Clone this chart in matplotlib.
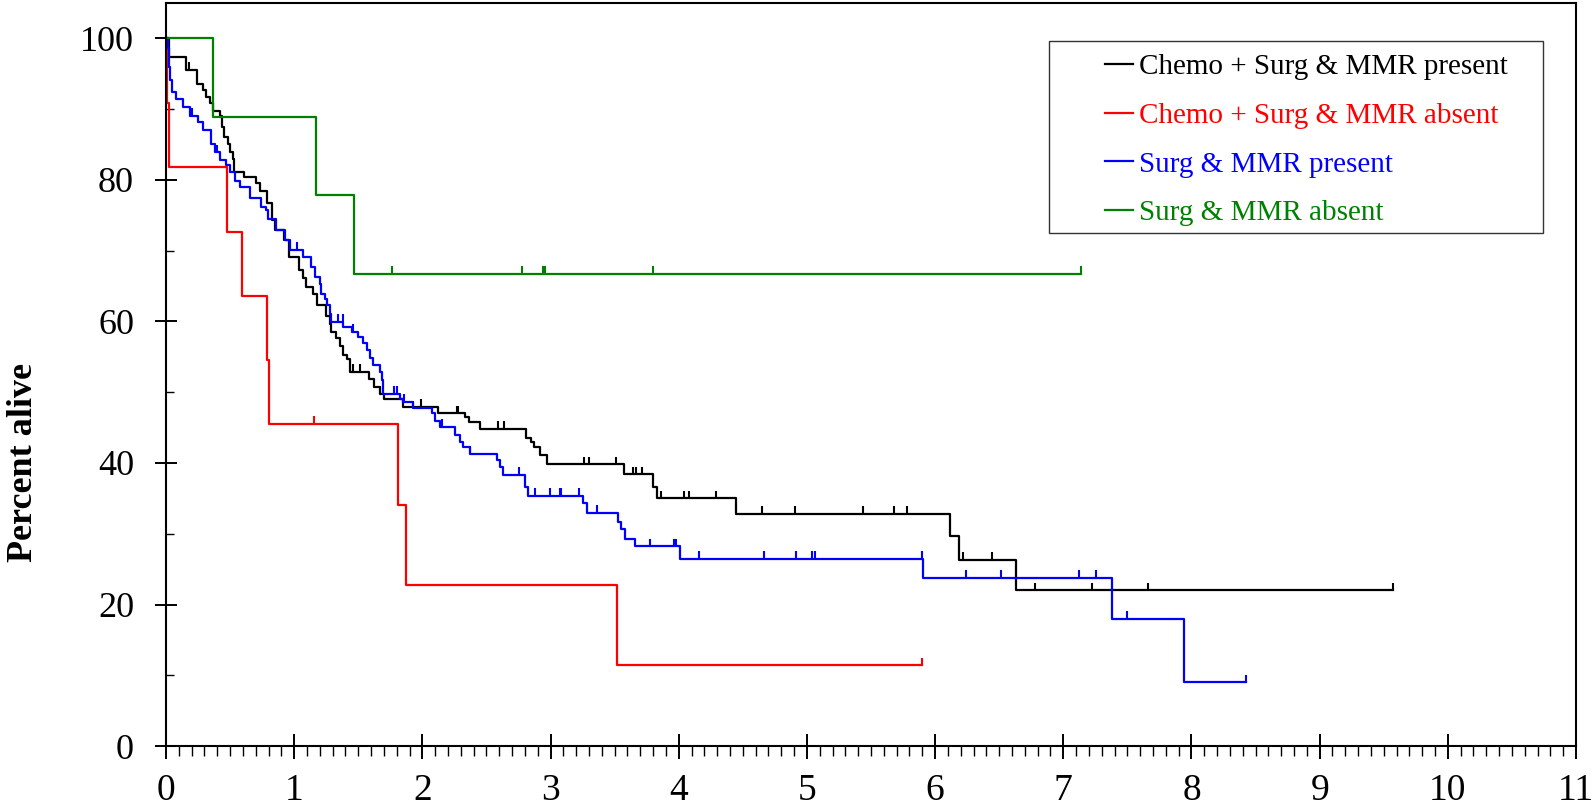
import numpy as np
import matplotlib.pyplot as plt
from matplotlib.patches import Rectangle
from matplotlib.ticker import MultipleLocator

plt.rcParams['font.family'] = ['Liberation Serif', 'DejaVu Serif']

labels = ['Chemo + Surg & MMR present', 'Chemo + Surg & MMR absent',
          'Surg & MMR present', 'Surg & MMR absent']
colors = ['#000000', '#FF0000', '#0000FF', '#008000']

# Chemo + Surg & MMR present
black_t = [0, 0.02, 0.16, 0.24, 0.29, 0.31, 0.34, 0.37, 0.42, 0.44, 0.455, 0.48, 0.50, 0.52, 0.53,
           0.61, 0.70, 0.73, 0.79, 0.83, 0.85, 0.92, 0.96, 1.04, 1.07, 1.09, 1.15, 1.175, 1.25, 1.28,
           1.29, 1.33, 1.36, 1.38, 1.41, 1.435, 1.58, 1.62, 1.67, 1.70, 1.85, 2.125, 2.33, 2.36, 2.45,
           2.81, 2.845, 2.87, 2.92, 2.97, 3.57, 3.80, 3.83, 4.45, 6.12, 6.19, 6.63]
black_s = [100, 97.3, 95.5, 93.5, 92.7, 91.7, 90.8, 89.8, 89.1, 87.5, 86.1, 85.1, 83.9, 83.0, 81.1,
           80.4, 79.5, 78.5, 76.7, 74.3, 72.9, 71.5, 69.1, 67.2, 66.1, 64.9, 63.9, 62.3, 60.8, 59.7,
           58.5, 57.6, 56.6, 55.2, 54.7, 52.9, 51.9, 50.7, 49.8, 49.0, 47.9, 47.0, 46.5, 45.8, 44.8,
           43.6, 43.0, 42.3, 41.1, 39.8, 38.4, 36.6, 35.0, 32.8, 29.7, 26.3, 22.0]
black_end = 9.57
black_cens = [0.18, 1.46, 1.51, 1.67, 1.99, 2.27, 2.28, 2.59, 2.64, 3.26, 3.30, 3.51, 3.64, 3.67,
              3.71, 3.86, 4.04, 4.08, 4.29, 4.65, 4.91, 5.44, 5.68, 5.78, 6.22, 6.44, 6.78, 7.22,
              7.66, 9.57]

# Chemo + Surg & MMR absent
red_t = [0, 0.005, 0.02, 0.473, 0.59, 0.785, 0.80, 1.812, 1.87, 3.52]
red_s = [100, 90.9, 81.8, 72.7, 63.6, 54.5, 45.5, 34.1, 22.7, 11.4]
red_end = 5.90
red_cens = [1.155, 5.90]

# Surg & MMR present
blue_t = [0, 0.015, 0.025, 0.035, 0.047, 0.08, 0.133, 0.19, 0.25, 0.29, 0.354, 0.38, 0.42, 0.47,
          0.497, 0.536, 0.575, 0.653, 0.744, 0.783, 0.796, 0.861, 0.926, 0.965, 1.069, 1.134, 1.16,
          1.20, 1.21, 1.24, 1.253, 1.279, 1.29, 1.383, 1.448, 1.50, 1.539, 1.565, 1.591, 1.617,
          1.669, 1.682, 1.695, 1.825, 1.851, 1.929, 2.072, 2.098, 2.137, 2.254, 2.293, 2.319, 2.371,
          2.579, 2.605, 2.631, 2.80, 2.826, 3.255, 3.287, 3.528, 3.546, 3.58, 3.658, 4.009, 5.908,
          7.382, 7.941]
blue_s = [100, 98.6, 96.0, 94.1, 92.4, 91.5, 90.3, 89.1, 88.2, 87.0, 85.1, 83.9, 82.8, 82.1,
          81.1, 79.9, 79.0, 77.4, 76.2, 75.7, 74.5, 72.9, 71.5, 70.1, 69.1, 67.7, 66.3,
          65.3, 63.9, 63.2, 62.3, 61.1, 59.9, 59.2, 58.5, 57.8, 56.9, 55.9, 54.8, 53.8,
          52.9, 51.7, 49.8, 49.1, 48.6, 47.7, 47.0, 46.0, 45.1, 43.9, 43.0, 42.3, 41.3,
          40.4, 39.4, 38.3, 36.6, 35.3, 34.3, 33.0, 31.7, 30.6, 29.3, 28.2, 26.4, 23.8,
          18.0, 9.0]
blue_end = 8.425
blue_cens = [0.20, 0.395, 1.02, 1.344, 1.38, 1.46, 1.78, 1.80, 1.86, 1.929, 2.15, 2.371, 2.75,
             2.878, 2.996, 3.07, 3.08, 3.224, 3.359, 3.775, 3.96, 3.98, 4.16, 4.667, 4.914, 5.04,
             5.06, 5.90, 6.241, 6.511, 7.125, 7.252, 7.499, 8.425]

# Surg & MMR absent
green_t = [0, 0.364, 1.168, 1.466]
green_s = [100, 88.9, 77.8, 66.7]
green_end = 7.14
green_cens = [1.763, 2.777, 2.945, 2.96, 3.80, 7.14]


def draw_km(ax, t, s, end, cens, color, label):
    t = np.asarray(t)
    s = np.asarray(s)
    x = np.append(t, end)
    y = np.append(s, s[-1])
    ax.step(x, y, where='post', color=color, lw=1.6, label=label)
    c = np.asarray(cens)
    cy = s[np.searchsorted(t, c, side='right') - 1]
    ax.vlines(c, cy, cy + 1.1, color=color, lw=1.5)


fig = plt.figure(figsize=(15.96, 8.11), dpi=100)
ax = fig.add_axes([0.104, 0.0801, 0.8835, 0.9162])

series = [(black_t, black_s, black_end, black_cens),
          (red_t, red_s, red_end, red_cens),
          (blue_t, blue_s, blue_end, blue_cens),
          (green_t, green_s, green_end, green_cens)]
for (t, s, e, c), col, lab in zip(series, colors, labels):
    draw_km(ax, t, s, e, c, col, lab)

ax.set_xlim(0, 11)
ax.set_ylim(0, 105)
ax.xaxis.set_major_locator(MultipleLocator(1))
ax.xaxis.set_minor_locator(MultipleLocator(0.1))
ax.yaxis.set_major_locator(MultipleLocator(20))
ax.yaxis.set_minor_locator(MultipleLocator(10))
ax.tick_params(axis='x', which='major', direction='inout', length=18, width=1.4,
               labelsize=27, pad=11)
ax.tick_params(axis='x', which='minor', direction='out', length=7, width=1.0)
ax.tick_params(axis='y', which='major', direction='inout', length=16, width=1.4,
               labelsize=26, pad=15)
ax.tick_params(axis='y', which='minor', direction='in', length=6, width=1.0)
for sp in ax.spines.values():
    sp.set_linewidth(1.5)

fig.text(23.5 / 1596, 1 - 463 / 811, 'Percent alive', rotation=90, ha='center', va='center',
         fontsize=26, fontweight='bold')

leg = ax.legend(loc='upper left', bbox_to_anchor=(1105 / 1596, 1 - 54 / 811),
                bbox_transform=fig.transFigure, frameon=False, fontsize=21,
                handlelength=0.95, handletextpad=0.2, labelspacing=0.76,
                borderpad=0, borderaxespad=0)
for txt, col in zip(leg.get_texts(), colors):
    txt.set_color(col)
fig.patches.append(Rectangle((1049 / 1596, 1 - 233 / 811), 494 / 1596, 192 / 811,
                             transform=fig.transFigure, fill=False, ec='#333333', lw=1.0))

fig.savefig('out.png', dpi=100)
